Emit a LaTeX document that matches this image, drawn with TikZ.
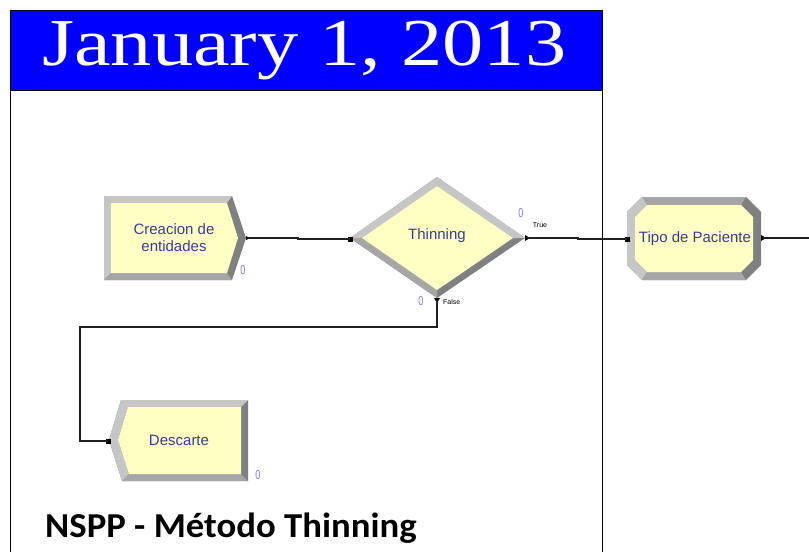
\documentclass[tikz,border=0pt]{standalone}
\usepackage{fontspec}
\setmainfont{Liberation Sans}
\newfontfamily\titlefont[FakeStretch=1.23]{Liberation Serif}
\newfontfamily\capfont[FakeStretch=1.05]{Carlito}
\newfontfamily\cntfont[FakeStretch=0.7]{Liberation Sans}
\definecolor{bevlite}{HTML}{C6C6C6}
\definecolor{bevmid}{HTML}{A6A6A6}
\definecolor{bevdark}{HTML}{808080}
\definecolor{modfill}{HTML}{FFFFC4}
\definecolor{lbltext}{HTML}{3A3A96}
\definecolor{cntcol}{HTML}{8A78D8}
\definecolor{linecol}{HTML}{202020}
\definecolor{hdrblue}{HTML}{0000FF}
\begin{document}
\begin{tikzpicture}[x=1pt,y=-1pt,
  lite/.style={fill=bevlite},
  mid/.style={fill=bevmid},
  dark/.style={fill=bevdark},
  core/.style={fill=modfill},
  lbl/.style={text=lbltext,font=\fontsize{15}{17}\selectfont,align=center,inner sep=0pt},
  cnt/.style={text=cntcol,font=\cntfont\fontsize{13}{13}\selectfont,inner sep=0pt},
  tiny/.style={text=black,font=\fontsize{7}{8}\selectfont,inner sep=0pt},
  conn/.style={draw=linecol,line width=1.1pt},
  portin/.style={fill=black,minimum size=5pt,inner sep=0pt,draw=none},
]
\useasboundingbox (0,0) rectangle (809,552);
% header and frame
\fill[white] (0,0) rectangle (809,552);
\draw[fill=hdrblue,draw=black,line width=1pt] (10,10) rectangle (602,90);
\node[anchor=base west,text=white,font=\titlefont\fontsize{67}{67}\selectfont,inner sep=0pt] (title) at (42,65) {January 1, 2013};
\draw[black,line width=1pt] (10,90) -- (10,552);
\draw[black,line width=1pt] (602,90) -- (602,552);

% Creacion de entidades (create)
\fill[dark] (104,196) -- (232,196) -- (246,238) -- (232,280) -- (104,280) -- cycle;
\fill[lite] (104,196) -- (232,196) -- (227,203) -- (111,203) -- cycle;
\fill[lite] (104,196) -- (111,203) -- (111,273) -- (104,280) -- cycle;
\fill[mid] (104,280) -- (111,273) -- (227,273) -- (232,280) -- cycle;
\fill[core] (111,203) -- (227,203) -- (238,238) -- (227,273) -- (111,273) -- cycle;
\node[lbl] (cre) at (174,238) {Creacion de\\entidades};
\node[cnt] (cre0) at (243,270) {0};
\coordinate (cre-out) at (248,238);
\fill[black] (246,236) -- (250,238) -- (246,240) -- cycle;

% Thinning (decide)
\fill[dark] (350,238) -- (437,177) -- (525,238) -- (437,298) -- cycle;
\fill[lite] (350,238) -- (437,177) -- (437,186) -- (362,238) -- cycle;
\fill[lite] (437,177) -- (525,238) -- (513,238) -- (437,186) -- cycle;
\fill[mid] (350,238) -- (362,238) -- (437,290) -- (437,298) -- cycle;
\fill[core] (362,238) -- (437,186) -- (513,238) -- (437,290) -- cycle;
\node[lbl] (thin) at (437,236) {Thinning};
\coordinate (thin-in) at (350,239);
\coordinate (thin-true) at (527,238);
\coordinate (thin-false) at (437,300);
\node[portin] at (thin-in) {};
\fill[black] (525,235) -- (530,238) -- (525,241) -- cycle;
\fill[black] (434,298) -- (437,303) -- (440,298) -- cycle;
\node[cnt] (thin0a) at (521,213) {0};
\node[tiny] (truelbl) at (540,225) {True};
\node[cnt] (thin0b) at (421,301) {0};
\node[tiny,anchor=west] (falselbl) at (443,302) {False};

% Tipo de Paciente (process)
\fill[dark] (642,197) -- (746,197) -- (761,212) -- (761,265) -- (746,280) -- (642,280) -- (627,265) -- (627,212) -- cycle;
\fill[mid] (642,197) -- (746,197) -- (741,205) -- (647,205) -- cycle;
\fill[lite] (642,197) -- (647,205) -- (635,217) -- (635,260) -- (647,272) -- (642,280) -- (627,265) -- (627,212) -- cycle;
\fill[mid] (642,280) -- (647,272) -- (741,272) -- (746,280) -- cycle;
\fill[core] (647,205) -- (741,205) -- (753,217) -- (753,260) -- (741,272) -- (647,272) -- (635,260) -- (635,217) -- cycle;
\node[lbl] (tipo) at (695,239) {Tipo de Paciente};
\coordinate (tipo-in) at (627,239);
\coordinate (tipo-out) at (763,238);
\coordinate (tipo-next) at (809,238);
\node[portin] at (tipo-in) {};
\fill[black] (761,235) -- (766,238) -- (761,241) -- cycle;

% Descarte (dispose)
\fill[dark] (121,400) -- (248,400) -- (248,481) -- (122,481) -- (109,440) -- cycle;
\fill[lite] (109,440) -- (121,400) -- (248,400) -- (241,407) -- (128,407) -- (118,440) -- cycle;
\fill[lite] (109,440) -- (118,440) -- (129,474) -- (122,481) -- cycle;
\fill[mid] (122,481) -- (129,474) -- (241,474) -- (248,481) -- cycle;
\fill[core] (128,407) -- (241,407) -- (241,474) -- (129,474) -- (118,440) -- cycle;
\node[lbl] (desc) at (179,440) {Descarte};
\node[cnt] (desc0) at (258,475) {0};
\coordinate (desc-in) at (108,441);
\node[portin] at (desc-in) {};

% connectors
\draw[conn] (cre-out) -- (298,238) -- (298,239) -- (thin-in);
\draw[conn] (thin-true) -- (578,238) -- (578,239) -- (tipo-in);
\draw[conn] (thin-false) -- (437,327) -- (80,327) -- (80,441) -- (desc-in);
\draw[conn] (tipo-out) -- (tipo-next);

% caption
\node[anchor=base west,font=\capfont\bfseries\fontsize{35}{35}\selectfont,inner sep=0pt] (cap) at (45,537) {NSPP - Método Thinning};
\end{tikzpicture}
\end{document}
